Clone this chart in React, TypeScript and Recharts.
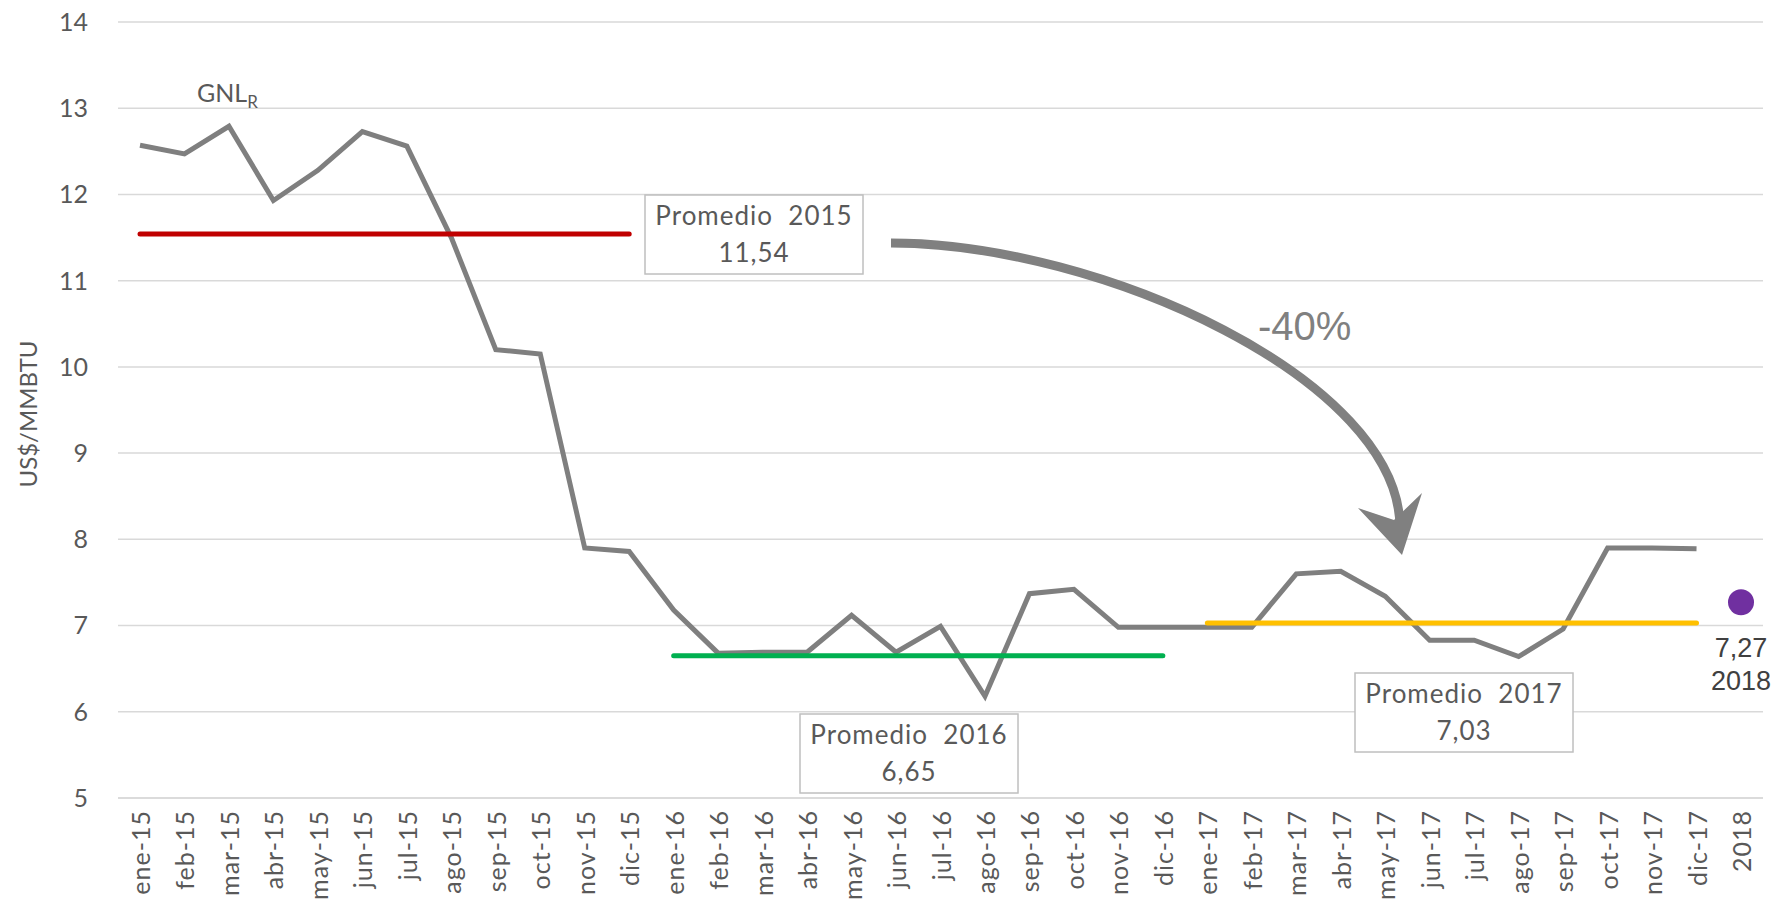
import { CartesianGrid, LabelList, Line, LineChart, XAxis, YAxis } from "recharts";

const months = [
  "ene-15", "feb-15", "mar-15", "abr-15", "may-15", "jun-15", "jul-15", "ago-15", "sep-15", "oct-15", "nov-15", "dic-15",
  "ene-16", "feb-16", "mar-16", "abr-16", "may-16", "jun-16", "jul-16", "ago-16", "sep-16", "oct-16", "nov-16", "dic-16",
  "ene-17", "feb-17", "mar-17", "abr-17", "may-17", "jun-17", "jul-17", "ago-17", "sep-17", "oct-17", "nov-17", "dic-17",
  "2018",
];

const gnl = [
  12.57, 12.47, 12.79, 11.93, 12.28, 12.73, 12.56, 11.5, 10.2, 10.15, 7.9, 7.86,
  7.18, 6.68, 6.69, 6.69, 7.12, 6.69, 6.99, 6.18, 7.37, 7.42, 6.98, 6.98,
  6.98, 6.98, 7.6, 7.63, 7.34, 6.83, 6.83, 6.64, 6.96, 7.9, 7.9, 7.89,
  null,
];

const avgYears = ["15", "16", "17"];
const avgValues = [11.54, 6.65, 7.03];
const value2018 = 7.27;
const yTicks = [5, 6, 7, 8, 9, 10, 11, 12, 13, 14];

const data = months.map((name, i) => {
  const yr = name.slice(-2);
  const k = avgYears.indexOf(yr);
  return {
    name,
    gnl: gnl[i],
    p2015: k === 0 ? avgValues[0] : null,
    p2016: k === 1 ? avgValues[1] : null,
    p2017: k === 2 ? avgValues[2] : null,
    p2018: name === "2018" ? value2018 : null,
  };
});

const font = "Lato, 'Open Sans', sans-serif";
const arial = "'Liberation Sans', Arial, sans-serif";

function XTick(props: any) {
  const { x, payload } = props;
  const y = 810;
  return (
    <text
      x={x}
      y={y}
      transform={`rotate(-90, ${x}, ${y})`}
      textAnchor="end"
      dominantBaseline="central"
      fontSize={25}
      fontFamily={font}
      fill="#595959"
      letterSpacing={1}
    >
      {payload.value}
    </text>
  );
}

function DotLabel(props: any) {
  const { x, y, value } = props;
  if (value == null) return null;
  return (
    <g fontFamily={arial} fontSize={27} fill="#404040" textAnchor="middle">
      <text x={x} y={y + 55}>{String(value).replace(".", ",")}</text>
      <text x={x} y={y + 88}>2018</text>
    </g>
  );
}

function Box({ x, y, title, value }: { x: number; y: number; title: string; value: string }) {
  const w = 218;
  const h = 79;
  return (
    <g>
      <rect x={x} y={y} width={w} height={h} fill="#fff" stroke="#bfbfbf" strokeWidth={1.5} />
      <text x={x + w / 2} y={y + 30} textAnchor="middle" fontSize={26} fontFamily={font} fill="#595959" letterSpacing={1} style={{ whiteSpace: "pre" }}>
        {title}
      </text>
      <text x={x + w / 2} y={y + 67} textAnchor="middle" fontSize={26} fontFamily={font} fill="#595959" letterSpacing={1}>
        {value}
      </text>
    </g>
  );
}

export default function App() {
  return (
    <div style={{ position: "absolute", left: 0, top: 0, width: 1773, height: 906, background: "#fff" }}>
      <LineChart width={1773} height={906} data={data} margin={{ top: 22, right: 10, left: 0, bottom: 0 }}>
        <CartesianGrid vertical={false} stroke="#d9d9d9" strokeWidth={1.5} />
        <XAxis
          dataKey="name"
          interval={0}
          tick={<XTick />}
          tickLine={false}
          axisLine={{ stroke: "#d9d9d9", strokeWidth: 1.5 }}
          height={108}
          padding={{ left: 22, right: 22 }}
        />
        <YAxis
          type="number"
          domain={[5, 14]}
          ticks={yTicks}
          width={118}
          tickLine={false}
          axisLine={false}
          tickMargin={24}
          tick={{ fill: "#595959", fontSize: 25, fontFamily: font }}
          label={{ value: "US$/MMBTU", angle: -90, position: "center", dx: -31, dy: 4, fill: "#595959", fontSize: 24, fontFamily: font }}
        />
        <Line dataKey="gnl" stroke="#7f7f7f" strokeWidth={5} dot={false} isAnimationActive={false} />
        <Line dataKey="p2015" stroke="#c00000" strokeWidth={5} strokeLinecap="round" dot={false} isAnimationActive={false} />
        <Line dataKey="p2016" stroke="#00b050" strokeWidth={5} strokeLinecap="round" dot={false} isAnimationActive={false} />
        <Line dataKey="p2017" stroke="#ffc000" strokeWidth={5} strokeLinecap="round" dot={false} isAnimationActive={false} />
        <Line
          dataKey="p2018"
          stroke="none"
          dot={{ r: 13, fill: "#7030a0", stroke: "none" }}
          isAnimationActive={false}
        >
          <LabelList dataKey="p2018" content={<DotLabel />} />
        </Line>
      </LineChart>
      <svg width={1773} height={906} style={{ position: "absolute", left: 0, top: 0, pointerEvents: "none" }}>
        <text x={197} y={102} fontSize={25} fontFamily={font} fill="#595959">
          GNL<tspan fontSize={17} dy={6}>R</tspan>
        </text>
        <Box x={645} y={195} title={"Promedio  2015"} value="11,54" />
        <Box x={800} y={714} title={"Promedio  2016"} value="6,65" />
        <Box x={1355} y={673} title={"Promedio  2017"} value="7,03" />
        <path d="M 891 243 C 1100 243, 1400 380, 1400 528" fill="none" stroke="#808080" strokeWidth={9} />
        <polygon points="1402,555 1358,508 1394,520 1422,493" fill="#808080" />
        <text x={1258} y={340} fontSize={40} fontFamily={arial} fill="#808080">
          -40%
        </text>
      </svg>
    </div>
  );
}
